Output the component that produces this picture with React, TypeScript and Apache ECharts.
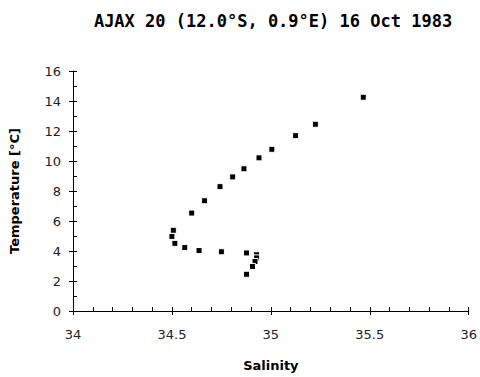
import React, { useEffect, useRef } from "react";
import * as echarts from "echarts";

const TITLE = "AJAX 20 (12.0°S, 0.9°E) 16 Oct 1983";
const X_NAME = "Salinity";
const Y_NAME = "Temperature [°C]";

const salinity = [
  35.467, 35.225, 35.125, 35.005, 34.94, 34.864, 34.807, 34.743, 34.665, 34.6,
  34.507, 34.5, 34.515, 34.565, 34.637, 34.75, 34.877, 34.928, 34.928, 34.92,
  34.907, 34.877,
];
const temperature = [
  14.25, 12.45, 11.69, 10.78, 10.21, 9.48, 8.94, 8.29, 7.35, 6.53,
  5.38, 4.97, 4.51, 4.23, 4.03, 3.95, 3.87, 3.75, 3.54, 3.3,
  2.97, 2.45,
];

const X_MIN = 34;
const X_MAX = 36;
const X_INTERVAL = 0.5;
const Y_MIN = 0;
const Y_MAX = 16;
const Y_INTERVAL = 2;

export default function App() {
  const ref = useRef<HTMLDivElement>(null);
  useEffect(() => {
    if (!ref.current) return;
    const chart = echarts.init(ref.current, undefined, { renderer: "svg" });
    const font = "DejaVu Sans";
    const lineStyle = { color: "#000", width: 1 };
    const data = salinity.map((s, i) => [s, temperature[i]]);
    const baseX = {
      type: "value",
      min: X_MIN,
      max: X_MAX,
      interval: X_INTERVAL,
      position: "bottom",
      splitLine: { show: false },
    };
    const baseY = {
      type: "value",
      min: Y_MIN,
      max: Y_MAX,
      interval: Y_INTERVAL,
      position: "left",
      splitLine: { show: false },
    };
    chart.setOption({
      animation: false,
      backgroundColor: "#fff",
      title: {
        text: TITLE,
        left: 268,
        top: 7,
        textAlign: "center",
        textStyle: {
          fontFamily: "DejaVu Sans Mono",
          fontSize: 17,
          fontWeight: "bold",
          color: "#000",
        },
      },
      grid: { left: 70, right: 10, top: 71, bottom: 60 },
      xAxis: [
        {
          ...baseX,
          name: X_NAME,
          nameLocation: "middle",
          nameGap: 48,
          nameTextStyle: {
            fontFamily: font,
            fontSize: 13,
            fontWeight: "bold",
            color: "#000",
          },
          axisLine: { show: true, lineStyle },
          axisTick: { show: true, inside: true, length: 4, lineStyle },
          minorTick: { show: true, splitNumber: 5, length: 4, lineStyle },
          axisLabel: {
            show: true,
            margin: 17,
            fontFamily: font,
            fontSize: 13,
            color: "#222",
            formatter: (v: number) => String(v),
          },
        },
        {
          ...baseX,
          axisLine: { show: false },
          axisTick: { show: true, inside: false, length: 4, lineStyle },
          axisLabel: { show: false },
        },
      ],
      yAxis: [
        {
          ...baseY,
          name: Y_NAME,
          nameLocation: "middle",
          nameGap: 52,
          nameTextStyle: {
            fontFamily: font,
            fontSize: 13,
            fontWeight: "bold",
            color: "#000",
          },
          axisLine: { show: true, lineStyle },
          axisTick: { show: true, inside: true, length: 4, lineStyle },
          minorTick: { show: true, splitNumber: 2, length: 4, lineStyle },
          axisLabel: {
            show: true,
            margin: 12,
            fontFamily: font,
            fontSize: 13,
            color: "#222",
          },
        },
        {
          ...baseY,
          axisLine: { show: false },
          axisTick: { show: true, inside: false, length: 4, lineStyle },
          axisLabel: { show: false },
        },
      ],
      series: [
        {
          type: "scatter",
          xAxisIndex: 0,
          yAxisIndex: 0,
          symbol: "rect",
          symbolSize: 6,
          itemStyle: { color: "#000", borderColor: "#fff", borderWidth: 1, opacity: 1 },
          data,
        },
      ],
    });
    return () => chart.dispose();
  }, []);
  return (
    <div
      ref={ref}
      style={{ position: "absolute", left: 0, top: 0, width: 480, height: 377 }}
    />
  );
}
